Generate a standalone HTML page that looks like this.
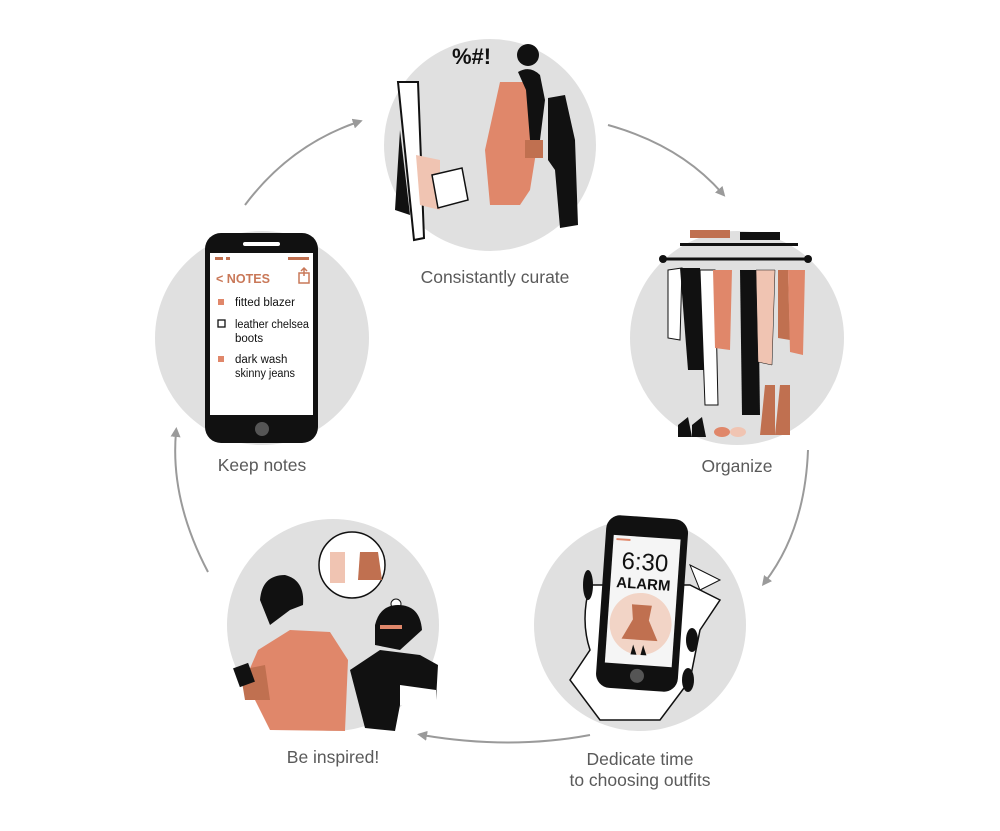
<!DOCTYPE html>
<html><head><meta charset="utf-8"><style>
html,body{margin:0;padding:0;background:#fff;width:1000px;height:831px;overflow:hidden}
svg{display:block}
text{font-family:"Liberation Sans",sans-serif}
</style></head><body>
<svg width="1000" height="831" viewBox="0 0 1000 831" xmlns="http://www.w3.org/2000/svg">
<defs><marker id="ah" markerWidth="10" markerHeight="10" refX="5" refY="5" orient="auto" markerUnits="userSpaceOnUse"><path d="M0,0 L10,5 L0,10 z" fill="#9a9a9a"/></marker></defs>
<circle cx="490" cy="145" r="106" fill="#e0e0e0"/>
<circle cx="737" cy="338" r="107" fill="#e0e0e0"/>
<circle cx="640" cy="625" r="106" fill="#e0e0e0"/>
<circle cx="333" cy="625" r="106" fill="#e0e0e0"/>
<circle cx="262" cy="338" r="107" fill="#e0e0e0"/>
<g fill="none" stroke="#9a9a9a" stroke-width="2" marker-end="url(#ah)">
<path d="M245,205 Q290,145 358,122"/>
<path d="M608,125 Q680,145 722,193"/>
<path d="M808,450 Q805,530 765,582"/>
<path d="M590,735 Q510,750 422,735"/>
<path d="M208,572 Q170,500 176,432"/>
</g>
<g font-size="17.5" fill="#5a5a5a" text-anchor="middle">
<text x="495" y="283">Consistantly curate</text>
<text x="737" y="472">Organize</text>
<text x="640" y="765">Dedicate time</text>
<text x="640" y="786">to choosing outfits</text>
<text x="333" y="763">Be inspired!</text>
<text x="262" y="471">Keep notes</text>
</g>
<g>
<path d="M398,82 L418,82 L424,238 L414,240 Z" fill="#fff" stroke="#111" stroke-width="2"/>
<path d="M400,130 L395,210 L410,215 Z" fill="#111"/>
<path d="M416,155 L440,160 L440,210 L420,205 Z" fill="#f0c4b2"/>
<path d="M432,175 L462,168 L468,200 L438,208 Z" fill="#fff" stroke="#111" stroke-width="1.5"/>
<path d="M500,82 L530,82 L538,140 L530,190 L520,205 L490,205 L485,150 Z" fill="#e0876a"/>
<path d="M518,72 Q530,65 540,75 L545,100 L540,140 L530,140 L526,90 Z" fill="#111"/>
<circle cx="528" cy="55" r="11" fill="#111"/>
<path d="M548,98 L565,95 L575,140 L578,225 L560,228 L555,170 L548,160 Z" fill="#111"/>
<rect x="525" y="140" width="18" height="18" fill="#c07050"/>
<text x="452" y="64" font-size="22" font-weight="bold" fill="#111">%#!</text>
</g>
<g>
<rect x="690" y="230" width="40" height="8" fill="#c07050"/>
<rect x="740" y="232" width="40" height="8" fill="#111"/>
<rect x="680" y="243" width="118" height="3" fill="#111"/>
<line x1="662" y1="259" x2="808" y2="259" stroke="#111" stroke-width="3"/>
<circle cx="663" cy="259" r="4" fill="#111"/><circle cx="808" cy="259" r="4" fill="#111"/>
<path d="M668,270 L682,268 L680,340 L668,338 Z" fill="#fff" stroke="#111"/>
<path d="M680,268 L700,268 L705,370 L688,370 Z" fill="#111"/>
<path d="M700,270 L715,270 L718,405 L705,405 Z" fill="#fff" stroke="#111"/>
<path d="M713,270 L732,270 L730,350 L715,348 Z" fill="#e0876a"/>
<path d="M740,270 L758,270 L760,415 L742,415 Z" fill="#111"/>
<path d="M756,270 L775,270 L772,365 L758,362 Z" fill="#f0c4b2" stroke="#111" stroke-width="0.5"/>
<path d="M778,270 L788,270 L790,340 L778,338 Z" fill="#c07050"/>
<path d="M788,270 L805,270 L803,355 L790,352 Z" fill="#e0876a"/>
<path d="M678,425 l10,-8 l4,20 h-14 z M692,425 l10,-8 l4,20 h-14 z" fill="#111"/>
<ellipse cx="722" cy="432" rx="8" ry="5" fill="#e0876a"/><ellipse cx="738" cy="432" rx="8" ry="5" fill="#f0c4b2"/>
<path d="M765,385 h10 v50 h-15 z M780,385 h10 v50 h-15 z" fill="#c07050"/>
</g>
<g>
<path d="M590,585 Q580,620 590,650 L570,680 L600,720 L660,720 L690,680 L700,630 L720,600 L690,585 Z" fill="#fff" stroke="#111" stroke-width="1.5"/>
<ellipse cx="588" cy="585" rx="5" ry="15" fill="#111"/>
<g transform="rotate(4 642 604)">
<rect x="601" y="517" width="82" height="173" rx="14" fill="#111"/>
<rect x="609" y="537" width="67" height="128" fill="#f5f5f5"/>
<rect x="612" y="540" width="14" height="2" fill="#e0876a"/>
<circle cx="642" cy="676" r="7" fill="#555"/>
<text x="642" y="570" font-size="24" text-anchor="middle" fill="#111">6:30</text>
<text x="642" y="589" font-size="15" font-weight="bold" text-anchor="middle" fill="#111">ALARM</text>
<circle cx="642" cy="624" r="31" fill="#f2d4c6"/>
<path d="M632,605 L652,605 L650,620 L660,640 L624,640 L634,620 Z" fill="#c07050"/>
<path d="M636,645 l4,10 h-6 z M646,645 l4,10 h-6 z" fill="#111"/>
</g>
<ellipse cx="692" cy="640" rx="6" ry="12" fill="#111"/>
<ellipse cx="688" cy="680" rx="6" ry="12" fill="#111"/>
<path d="M690,565 L720,580 L700,590 Z" fill="#fff" stroke="#111"/>
</g>
<g>
<circle cx="352" cy="565" r="33" fill="#fff" stroke="#111" stroke-width="1.5"/>
<circle cx="396" cy="604" r="5" fill="#fff" stroke="#111"/>
<path d="M330,552 L345,552 L345,583 L330,583 Z" fill="#f0c4b2"/>
<path d="M360,552 L378,552 L382,580 L358,580 Z" fill="#c07050"/>
<path d="M260,600 Q262,575 285,575 Q305,580 303,605 L290,610 L270,625 Z" fill="#111"/>
<path d="M245,680 L258,650 L290,630 L330,632 L348,660 L345,731 L270,730 Z" fill="#e0876a"/>
<path d="M240,670 L265,665 L270,700 L245,700 Z" fill="#c07050"/>
<rect x="236" y="665" width="16" height="20" fill="#111" transform="rotate(-20 244 675)"/>
<path d="M375,625 Q380,605 398,605 Q420,605 422,630 L400,650 L375,645 Z" fill="#111"/>
<path d="M350,670 L380,650 L420,655 L438,665 L436,700 L400,705 L395,731 L365,728 Z" fill="#111"/>
<path d="M400,685 L436,690 L436,710 L400,705 Z" fill="#fff"/>
<rect x="380" y="625" width="22" height="4" fill="#e0876a"/>
</g>
<g>
<rect x="205" y="233" width="113" height="210" rx="16" fill="#111"/>
<rect x="210" y="253" width="103" height="162" fill="#fff"/>
<rect x="243" y="242" width="37" height="4" rx="2" fill="#fff"/>
<circle cx="262" cy="429" r="7" fill="#555"/>
<rect x="215" y="257" width="8" height="3" fill="#c07050"/><rect x="226" y="257" width="4" height="3" fill="#c07050"/>
<rect x="288" y="257" width="21" height="3" fill="#c07050"/>
<text x="216" y="283" font-size="13" font-weight="bold" fill="#c97858" textLength="54" lengthAdjust="spacingAndGlyphs">&lt; NOTES</text>
<path d="M299,273 h10 v10 h-10 z M304,268 v8 M301,271 l3,-3 l3,3" fill="none" stroke="#c97858" stroke-width="1.5"/>
<g font-size="11.5" fill="#111">
<rect x="218" y="299" width="6" height="6" fill="#e0876a"/>
<text x="235" y="306" textLength="60" lengthAdjust="spacingAndGlyphs">fitted blazer</text>
<rect x="218" y="320" width="7" height="7" fill="none" stroke="#111" stroke-width="1.3"/>
<text x="235" y="328" textLength="74" lengthAdjust="spacingAndGlyphs">leather chelsea</text>
<text x="235" y="342">boots</text>
<rect x="218" y="356" width="6" height="6" fill="#e0876a"/>
<text x="235" y="363">dark wash</text>
<text x="235" y="377" textLength="60" lengthAdjust="spacingAndGlyphs">skinny jeans</text>
</g>
</g>
</svg>
</body></html>
